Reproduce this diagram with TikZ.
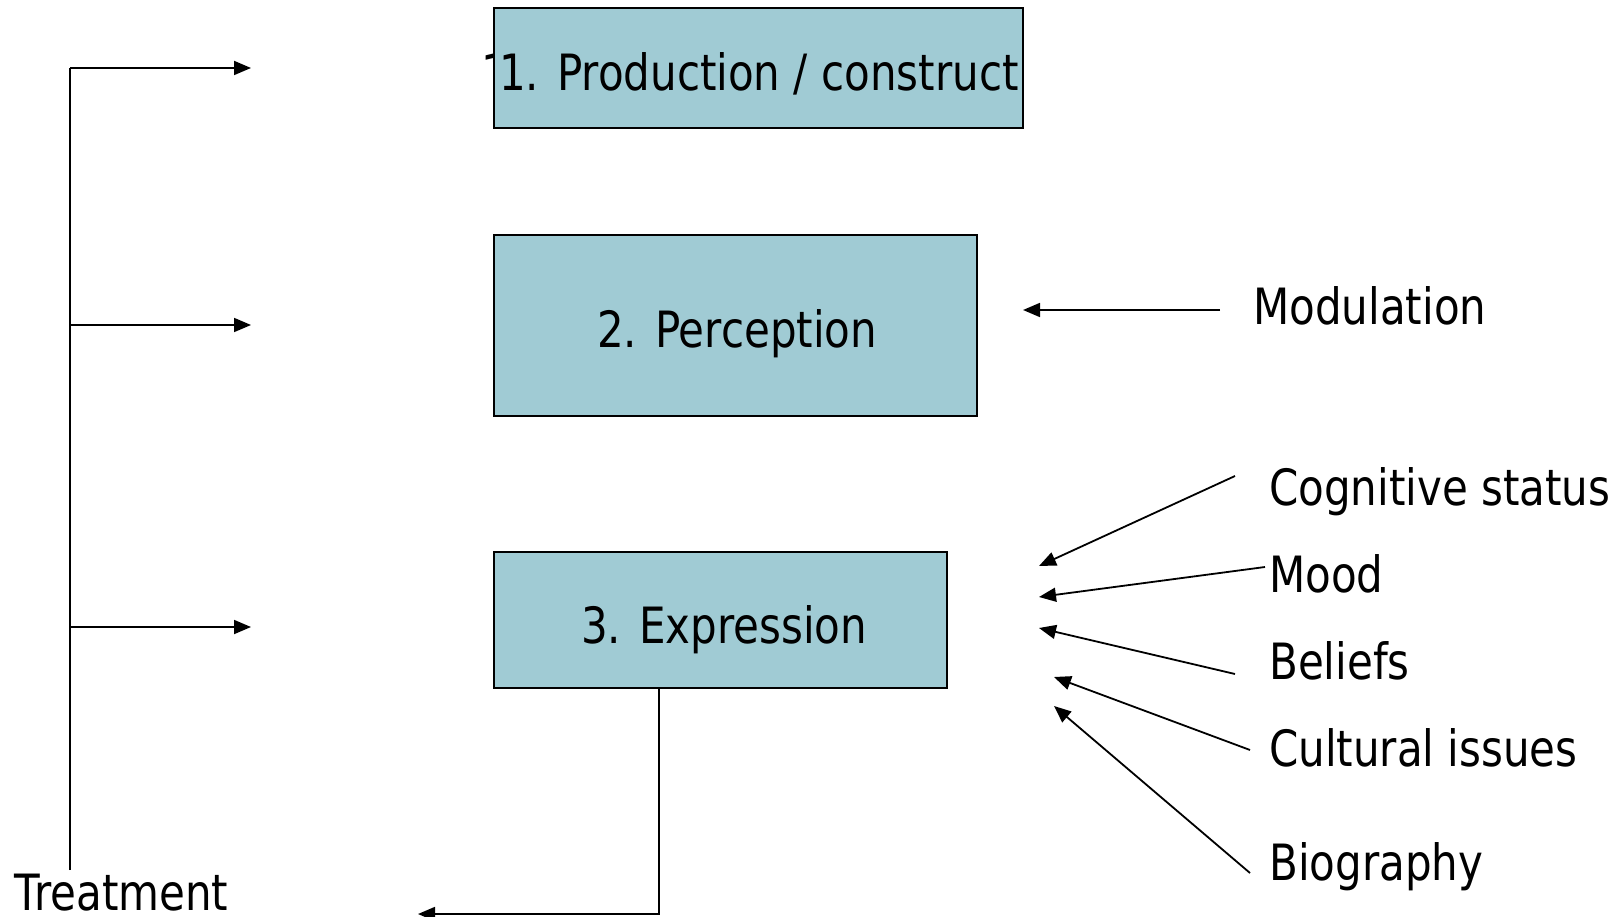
\documentclass[tikz,border=0pt]{standalone}
\usepackage{fontspec}
\setmainfont{DejaVu Sans}[FakeStretch=0.84]
\usetikzlibrary{arrows.meta}
\definecolor{boxfill}{RGB}{160,203,212}
\tikzset{
  stage/.style={draw=black, line width=1.6pt, fill=boxfill},
  lbl/.style={anchor=base west, inner sep=0pt, font=\fontsize{50}{60}\selectfont},
  link/.style={line width=1.8pt, -{Triangle[length=17pt,width=14pt]}},
  plain/.style={line width=1.8pt},
}
\begin{document}
\begin{tikzpicture}[x=1pt,y=-1pt]
\useasboundingbox (0,0) rectangle (1620,917);

% a numeral partly hidden behind the first box: only its flag shows
\begin{scope}
  \clip (470,40) rectangle (494,62);
  \node[lbl] (stray) at (481,91) {1};
\end{scope}

% the three stages
\path[stage] (494,8) rectangle (1023,128);
\node[lbl] (t1) at (499,91) {1. Production / construct};

\path[stage] (494,235) rectangle (977,416);
\node[lbl] (t2) at (597,348) {2. Perception};

\path[stage] (494,552) rectangle (947,688);
\coordinate (e3b) at (659,688);
\node[lbl] (t3) at (581,643) {3. Expression};

% treatment branch on the left
\node[lbl, text depth=0pt] (treat) at (14.5,910) {Treatment};
\coordinate (spineB) at (70,870);
\coordinate (spineT) at (70,68);
\coordinate (a1) at (251,68);
\coordinate (b2) at (70,325);
\coordinate (a2) at (251,325);
\coordinate (b3) at (70,627);
\coordinate (a3) at (251,627);
\draw[plain] (spineB) -- (spineT);
\draw[link] (spineT) -- (a1);
\draw[link] (b2) -- (a2);
\draw[link] (b3) -- (a3);

% feedback from expression back to treatment
\coordinate (fbC) at (659,914);
\coordinate (fbE) at (418,914);
\draw[link] (e3b) -- (fbC) -- (fbE);

% modulation of perception
\node[lbl] (mod) at (1253,325) {Modulation};
\coordinate (m0) at (1220,310);
\coordinate (m1) at (1023,310);
\draw[link] (m0) -- (m1);

% factors acting on expression
\node[lbl] (cog) at (1269,505) {Cognitive status};
\node[lbl] (mood) at (1269,592) {Mood};
\node[lbl] (bel) at (1269,679) {Beliefs};
\node[lbl] (cul) at (1269,766) {Cultural issues};
\node[lbl] (bio) at (1269,880) {Biography};

\coordinate (c0) at (1235,476); \coordinate (c1) at (1039,566);
\coordinate (d0) at (1265,567); \coordinate (d1) at (1039,597);
\coordinate (f0) at (1235,674); \coordinate (f1) at (1039,628);
\coordinate (g0) at (1250,750); \coordinate (g1) at (1054,677);
\coordinate (h0) at (1250,873); \coordinate (h1) at (1054,706);
\draw[link] (c0) -- (c1);
\draw[link] (d0) -- (d1);
\draw[link] (f0) -- (f1);
\draw[link] (g0) -- (g1);
\draw[link] (h0) -- (h1);
\end{tikzpicture}
\end{document}
